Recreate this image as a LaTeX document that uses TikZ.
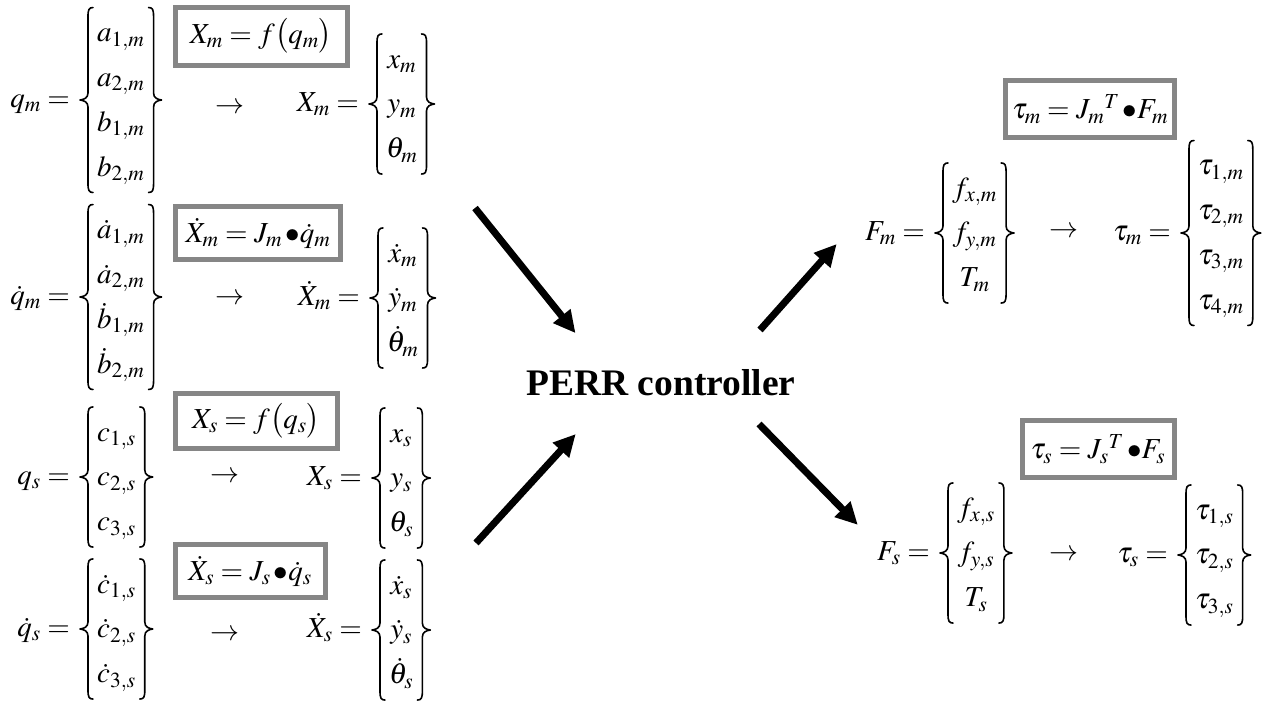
\documentclass[tikz,border=0pt]{standalone}
\usepackage{mathptmx}
\usepackage{fontspec}
\setmainfont{Liberation Serif}
\usetikzlibrary{arrows.meta,calc}
\newcommand{\col}[1]{$\renewcommand{\arraystretch}{1.29}\begin{array}{@{}c@{}}#1\end{array}$}
\newcommand{\bul}{\,{\bullet}}
\newcommand{\drawbraces}[1]{%
  \draw[brc] let \p1=(#1.north west), \p2=(#1.south east), \n1={0.5*(\y1+\y2)} in
   (\x1+13pt,\y1) .. controls (\x1+9pt,\y1) and (\x1+8pt,\y1-2pt) .. (\x1+8pt,\y1-9pt)
     -- (\x1+8pt,\n1+7pt) .. controls (\x1+8pt,\n1+2pt) and (\x1+4pt,\n1+0.5pt) .. (\x1,\n1+0pt)
     .. controls (\x1+4pt,\n1-0.5pt) and (\x1+8pt,\n1-2pt) .. (\x1+8pt,\n1-7pt)
     -- (\x1+8pt,\y2+9pt) .. controls (\x1+8pt,\y2+2pt) and (\x1+9pt,\y2) .. (\x1+13pt,\y2)
   (\x2-13pt,\y1) .. controls (\x2-9pt,\y1) and (\x2-8pt,\y1-2pt) .. (\x2-8pt,\y1-9pt)
     -- (\x2-8pt,\n1+7pt) .. controls (\x2-8pt,\n1+2pt) and (\x2-4pt,\n1+0.5pt) .. (\x2,\n1+0pt)
     .. controls (\x2-4pt,\n1-0.5pt) and (\x2-8pt,\n1-2pt) .. (\x2-8pt,\n1-7pt)
     -- (\x2-8pt,\y2+9pt) .. controls (\x2-8pt,\y2+2pt) and (\x2-9pt,\y2) .. (\x2-13pt,\y2);}
\begin{document}
\begin{tikzpicture}[x=1pt,y=-1pt,
  eq/.style={inner sep=0pt, font=\fontsize{29}{34.8}\selectfont},
  vec/.style={inner xsep=17pt, inner ysep=2.5pt, anchor=west, font=\fontsize{29}{34.8}\selectfont},
  lhs/.style={inner sep=0pt, anchor=base east, font=\fontsize{29}{34.8}\selectfont},
  brc/.style={line width=1.6pt, line cap=round, line join=round},
  eqbox/.style={draw=gray!95, line width=5pt, inner sep=0pt, font=\fontsize{29}{34.8}\selectfont},
  bigarrow/.style={line width=7pt, -{Triangle[length=22pt,width=21pt]}, shorten >=-4pt}]
\useasboundingbox (0,0) rectangle (1266,702);

% ---------- left column ----------
\node[vec] (qmV) at (80,100) {\col{a_{1,m}\\ a_{2,m}\\ b_{1,m}\\ b_{2,m}}};
\node[lhs] (qmL) at ([xshift=-10pt,yshift=-7.3pt]qmV.west) {$q_m =$};
\node[eq] (ar1) at (230,108) {$\rightarrow$};
\node[vec] (XmV) at (369,104) {\col{x_m\\ y_m\\ \theta_m}};
\node[lhs] (XmL) at ([xshift=-10pt,yshift=-7.3pt]XmV.west) {$X_m =$};
\node[eqbox, minimum width=172pt, minimum height=58pt] (b1) at (261,36) {$X_m = f\bigl(q_m\bigr)$};

\node[vec] (qdmV) at (80,297) {\col{\dot a_{1,m}\\ \dot a_{2,m}\\ \dot b_{1,m}\\ \dot b_{2,m}}};
\node[lhs] (qdmL) at ([xshift=-10pt,yshift=-7.3pt]qdmV.west) {$\dot q_m =$};
\node[eq] (ar2) at (230,299) {$\rightarrow$};
\node[vec] (XdmV) at (370,298) {\col{\dot x_m\\ \dot y_m\\ \dot\theta_m}};
\node[lhs] (XdmL) at ([xshift=-10pt,yshift=-7.3pt]XdmV.west) {$\dot X_m =$};
\node[eqbox, minimum width=165pt, minimum height=53pt] (b2) at (258,233) {$\dot X_m = J_m\bul\dot q_m$};

\node[vec] (qsV) at (80,477) {\col{c_{1,s}\\ c_{2,s}\\ c_{3,s}}};
\node[lhs] (qsL) at ([xshift=-10pt,yshift=-7.3pt]qsV.west) {$q_s =$};
\node[eq] (ar3) at (225,477) {$\rightarrow$};
\node[vec] (XsV) at (372,478) {\col{x_s\\ y_s\\ \theta_s}};
\node[lhs] (XsL) at ([xshift=-10pt,yshift=-7.3pt]XsV.west) {$X_s =$};
\node[eqbox, minimum width=162pt, minimum height=55pt] (b3) at (256,421) {$X_s = f\bigl(q_s\bigr)$};

\node[vec] (qdsV) at (80,629) {\col{\dot c_{1,s}\\ \dot c_{2,s}\\ \dot c_{3,s}}};
\node[lhs] (qdsL) at ([xshift=-10pt,yshift=-7.3pt]qdsV.west) {$\dot q_s =$};
\node[eq] (ar4) at (225,635) {$\rightarrow$};
\node[vec] (XdsV) at (372,630) {\col{\dot x_s\\ \dot y_s\\ \dot\theta_s}};
\node[lhs] (XdsL) at ([xshift=-10pt,yshift=-7.3pt]XdsV.west) {$\dot X_s =$};
\node[eqbox, minimum width=150pt, minimum height=53pt] (b4) at (250,571) {$\dot X_s = J_s\bul\dot q_s$};

% ---------- centre ----------
\node[inner sep=0pt, font=\bfseries\fontsize{37.5}{42}\selectfont] (perr) at (661,383) {PERR controller};

\coordinate (a1s) at (475,208); \coordinate (a1e) at (573,330);
\coordinate (a2s) at (476,543); \coordinate (a2e) at (573,437);
\coordinate (a3s) at (760,330); \coordinate (a3e) at (834,247);
\coordinate (a4s) at (759,424); \coordinate (a4e) at (855,522);
\draw[bigarrow] (a1s) -- (a1e);
\draw[bigarrow] (a2s) -- (a2e);
\draw[bigarrow] (a3s) -- (a3e);
\draw[bigarrow] (a4s) -- (a4e);

% ---------- right column ----------
\node[eqbox, minimum width=169pt, minimum height=57pt] (b5) at (1090,109) {$\tau_m = J_m{}^{T}\bul F_m$};
\node[vec] (FmV) at (935,233) {\col{f_{x,m}\\ f_{y,m}\\ T_m}};
\node[lhs] (FmL) at ([xshift=-10pt,yshift=-7.3pt]FmV.west) {$F_m =$};
\node[eq] (ar5) at (1064,232) {$\rightarrow$};
\node[vec] (tmV) at (1181,233) {\col{\tau_{1,m}\\ \tau_{2,m}\\ \tau_{3,m}\\ \tau_{4,m}}};
\node[lhs] (tmL) at ([xshift=-10pt,yshift=-7.3pt]tmV.west) {$\tau_m =$};

\node[eqbox, minimum width=152pt, minimum height=57pt] (b6) at (1098,449) {$\tau_s = J_s{}^{T}\bul F_s$};
\node[vec] (FsV) at (940,553) {\col{f_{x,s}\\ f_{y,s}\\ T_s}};
\node[lhs] (FsL) at ([xshift=-10pt,yshift=-7.3pt]FsV.west) {$F_s =$};
\node[eq] (ar6) at (1064,555) {$\rightarrow$};
\node[vec] (tsV) at (1178,555) {\col{\tau_{1,s}\\ \tau_{2,s}\\ \tau_{3,s}}};
\node[lhs] (tsL) at ([xshift=-10pt,yshift=-7.3pt]tsV.west) {$\tau_s =$};

\foreach \v in {qmV,XmV,qdmV,XdmV,qsV,XsV,qdsV,XdsV,FmV,tmV,FsV,tsV}{\drawbraces{\v}}
\end{tikzpicture}
\end{document}
